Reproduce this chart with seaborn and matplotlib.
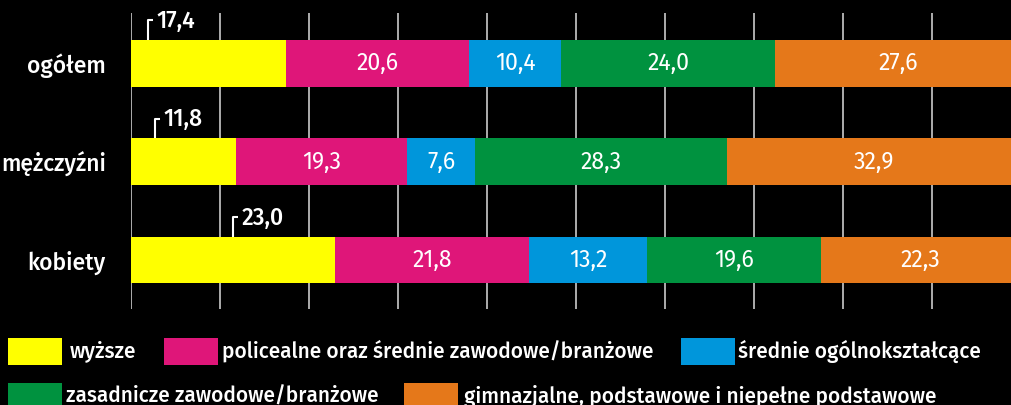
import matplotlib
matplotlib.use("Agg")
import matplotlib.pyplot as plt
import matplotlib.font_manager as fm
from matplotlib.patches import Rectangle
import seaborn as sns
import numpy as np
import pandas as pd

# ---- data ----
categories = ["ogółem", "mężczyźni", "kobiety"]
series_names = [
    "wyższe",
    "policealne oraz średnie zawodowe/branżowe",
    "średnie ogólnokształcące",
    "zasadnicze zawodowe/branżowe",
    "gimnazjalne, podstawowe i niepełne podstawowe",
]
wyzsze = [17.4, 11.8, 23.0]
policealne = [20.6, 19.3, 21.8]
srednie_ogolne = [10.4, 7.6, 13.2]
zasadnicze = [24.0, 28.3, 19.6]
gimnazjalne = [27.6, 32.9, 22.3]
# x position (data units) of the bracket for the label of the first segment
bracket_x = [1.9, 2.7, 11.5]

colors = ["#FFFF00", "#DF1679", "#0096DB", "#00923F", "#E5781A"]

sns.set_theme(style="white")

installed = {f.name for f in fm.fontManager.ttflist}


def pick(*names):
    for n in names:
        if n in installed:
            return n
    return "DejaVu Sans"


FAM = pick("Fira Sans", "Open Sans", "Noto Sans", "Roboto")
plt.rcParams["font.family"] = [FAM, "DejaVu Sans"]

W, H = 1011, 405
fig = plt.figure(figsize=(W / 100, H / 100), dpi=100, facecolor="black")
renderer = fig.canvas.get_renderer()


def fit_size(text, target_px, weight="normal", base=20.0):
    t = fig.text(0, 0, text, fontsize=base, fontweight=weight)
    w = t.get_window_extent(renderer).width
    t.remove()
    return base * target_px / w


def fx(px):
    return px / W


def fy(py):
    return 1 - py / H


left_px, right_px = 130.7, 130.7 + 100 * 8.9
top_px, bot_px = 13.3, 309.3
ax = fig.add_axes([fx(left_px), fy(bot_px), (right_px - left_px) / W, (bot_px - top_px) / H])
ax.set_facecolor("black")

series = [wyzsze, policealne, srednie_ogolne, zasadnicze, gimnazjalne]
cum = np.cumsum(np.array(series), axis=0)

# draw cumulative bars from the widest to the narrowest so they stack visually
for i in range(len(series) - 1, -1, -1):
    df = pd.DataFrame({"cat": categories, "val": cum[i]})
    sns.barplot(data=df, x="val", y="cat", orient="h", color=colors[i],
                saturation=1, width=0.475, ax=ax, linewidth=0, zorder=2)

ax.set_xlim(0, 100)
ax.set_ylim(2.5, -0.51)
ax.grid(False)
for xv in np.arange(0, 100, 10):
    ax.axvline(xv, color="#dcdcdc", lw=1.1, zorder=1)
for s in ax.spines.values():
    s.set_visible(False)
ax.set_xticks([])
ax.tick_params(axis="both", length=0)
ax.set_xlabel("")
ax.set_ylabel("")

cat_size = np.mean([fit_size("mężczyźni", 105, "medium"), fit_size("ogółem", 79, "medium")])
ax.set_yticks(range(len(categories)))
ax.set_yticklabels(categories, color="white", fontsize=cat_size, fontweight="medium")
ax.tick_params(axis="y", pad=18)

val_size = np.mean([fit_size("20,6", 42), fit_size("24,0", 42)])
top_size = fit_size("17,4", 39, "medium")

# value labels
for j in range(len(categories)):
    for i in range(1, len(series)):
        start = cum[i - 1][j]
        v = series[i][j]
        ax.text(start + v / 2, j, f"{v:.1f}".replace(".", ","), color="white",
                ha="center", va="center", fontsize=val_size, zorder=3)
    # first segment: label above the bar with a bracket
    bx = bracket_x[j]
    top_edge = j - 0.2375
    ax.plot([bx, bx, bx + 0.55], [top_edge, j - 0.44, j - 0.44], color="white",
            lw=1.5, solid_capstyle="butt", zorder=3, clip_on=False)
    ax.text(bx + 0.95, j - 0.43, f"{wyzsze[j]:.1f}".replace(".", ","), color="white",
            ha="left", va="center", fontsize=top_size, fontweight="medium", zorder=3)

# ---- legend (manual, two rows) ----
# (series index, square left px, square top px, text left px, text width px)
legend_items = [
    (0, 8, 338, 70, 64),
    (1, 164, 338, 222, 433),
    (2, 681, 338, 738, 243),
    (3, 8, 383, 66, 311),
    (4, 404, 383, 464, 477),
]
leg_size = float(np.median([fit_size(series_names[idx], tw, "medium") for idx, _, _, _, tw in legend_items]))
for idx, sx, sy, tx, tw in legend_items:
    fig.add_artist(Rectangle((fx(sx), fy(sy + 27)), 54 / W, 27 / H,
                             transform=fig.transFigure, facecolor=colors[idx],
                             edgecolor="none"))
    fig.text(fx(tx), fy(sy + 13), series_names[idx], color="white",
             fontsize=leg_size, fontweight="medium", ha="left", va="center")

fig.savefig("out.png", dpi=100, facecolor="black")
